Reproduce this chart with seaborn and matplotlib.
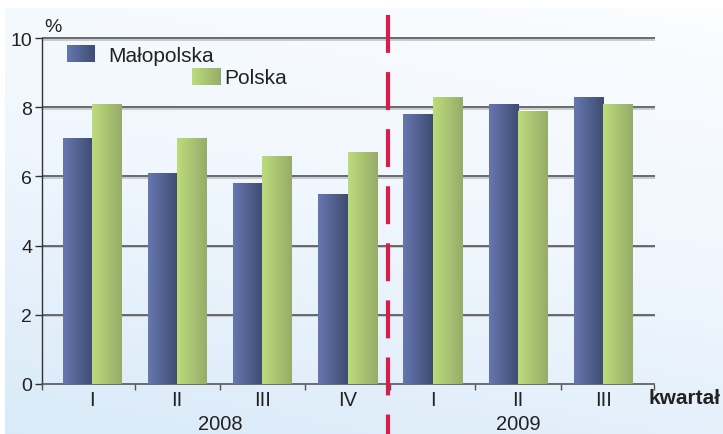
import numpy as np
import pandas as pd
import matplotlib
matplotlib.use("Agg")
import matplotlib.pyplot as plt
import seaborn as sns
from matplotlib.colors import LinearSegmentedColormap

# data
quarters = ["I", "II", "III", "IV", "I", "II", "III"]
years = ["2008", "2009"]
malopolska = [7.1, 6.1, 5.8, 5.5, 7.8, 8.1, 8.3]
polska = [8.1, 7.1, 6.6, 6.7, 8.3, 7.9, 8.1]
series = ["Małopolska", "Polska"]
yticks = [0, 2, 4, 6, 8, 10]

df = pd.DataFrame({
    "pos": list(range(len(quarters))) * 2,
    "value": malopolska + polska,
    "region": [series[0]] * len(quarters) + [series[1]] * len(quarters),
})

sns.set_theme(style="white")
plt.rcParams["font.family"] = ["Liberation Sans", "DejaVu Sans"]

W, H = 723, 435
fig = plt.figure(figsize=(W / 100, H / 100), dpi=100)

def px(x, y):
    return x / W, 1 - y / H

# background panel with a soft gradient
bg = fig.add_axes([0, 0, 1, 1], zorder=-10)
bg.set_axis_off()
gx, gy = np.meshgrid(np.linspace(0, 1, 200), np.linspace(0, 1, 200))
grad = 0.75 * gy + 0.25 * (1 - gx)
bg_cmap = LinearSegmentedColormap.from_list("bg", ["#fbfdff", "#eff6fd", "#d9eaf8"])
x0, y0 = 5 / W, 9 / H
bg.imshow(grad, cmap=bg_cmap, extent=[x0, 1, 0, 1 - y0], aspect="auto", origin="upper")
bg.set_xlim(0, 1)
bg.set_ylim(0, 1)

ax = fig.add_axes([42 / W, 1 - 385 / H, (654 - 42) / W, (385 - 39) / H])
ax.patch.set_alpha(0)

sns.barplot(data=df, x="pos", y="value", hue="region", hue_order=series,
            order=list(range(len(quarters))), width=0.69, ax=ax,
            palette=["#52608f", "#a8c372"], legend=False, saturation=1,
            edgecolor="none", zorder=3)

# horizontal gradient on bars
grad_maps = [
    LinearSegmentedColormap.from_list("b", ["#6677b0", "#3f4c72"]),
    LinearSegmentedColormap.from_list("g", ["#bcdc7c", "#96ac68"]),
]
ramp = np.linspace(0, 1, 64).reshape(1, -1)
for i, container in enumerate(ax.containers):
    for bar in container:
        bx, by = bar.get_x(), bar.get_y()
        bw, bh = bar.get_width(), bar.get_height()
        im = ax.imshow(ramp, cmap=grad_maps[i], extent=[bx, bx + bw, by, by + bh],
                       aspect="auto", zorder=3)
        im.set_clip_path(bar)
        bar.set_facecolor("none")

xmin, xmax = -0.587, 6.596
ax.set_xlim(xmin, xmax)
ax.set_ylim(0, 10)
ax.set_xlabel("")
ax.set_ylabel("")

# grid lines with a light shadow
for v in yticks[1:]:
    ax.plot([xmin, 6.61], [v - 0.045, v - 0.045], color="#c4c8cc", lw=1.3,
            zorder=1, clip_on=False, solid_capstyle="butt")
    ax.plot([xmin, 6.61], [v, v], color="#5e5e5e", lw=1.3, zorder=1.5,
            clip_on=False, solid_capstyle="butt")

for side in ["top", "right"]:
    ax.spines[side].set_visible(False)
ax.spines["left"].set_color("#333333")
ax.spines["bottom"].set_color("#555555")
ax.spines["left"].set_linewidth(1.0)
ax.spines["bottom"].set_linewidth(1.2)

ax.set_yticks(yticks)
ax.set_yticklabels([str(v) for v in yticks], fontsize=14, color="#222222")
ax.tick_params(axis="y", length=5, width=1, color="#333333", pad=2, left=True)

ax.set_xticks(range(len(quarters)))
ax.set_xticklabels(quarters, fontsize=14.5, color="#222222")
ax.set_xticks([xmin] + list(np.arange(0.5, 6, 1)) + [xmax - 0.005], minor=True)
ax.tick_params(axis="x", which="major", length=0, pad=4, bottom=True)
ax.tick_params(axis="x", which="minor", length=4, width=1, color="#555555", bottom=True)

# year labels
ax.text(1.5, -1.15, years[0], ha="center", va="center", fontsize=14.5, color="#222222")
ax.text(5.0, -1.15, years[1], ha="center", va="center", fontsize=14.5, color="#222222")

# separator between the years
ax.plot([3.47, 3.47], [10.66, -1.45], color="#d81c4b", lw=3, clip_on=False,
        linestyle=(0, (9.1, 4.6)), zorder=5, solid_capstyle="butt")

fig.text(*px(44, 28), "%", fontsize=14, ha="left", va="center", color="#222222")
fig.text(*px(648, 399), "kwartał", fontsize=15, ha="left", va="center",
         fontweight="bold", color="#222222")

# staggered legend
for (lx, ly, tx, label, cm) in [(67, 46, 108, series[0], grad_maps[0]),
                                (192, 69, 224, series[1], grad_maps[1])]:
    lax = fig.add_axes([lx / W, 1 - (ly + 17) / H, 28 / W, 17 / H])
    lax.imshow(ramp, cmap=cm, aspect="auto")
    lax.set_axis_off()
    fig.text(*px(tx, ly + 10), label, fontsize=15, ha="left", va="center", color="#222222")

fig.savefig("out.png", dpi=100)
